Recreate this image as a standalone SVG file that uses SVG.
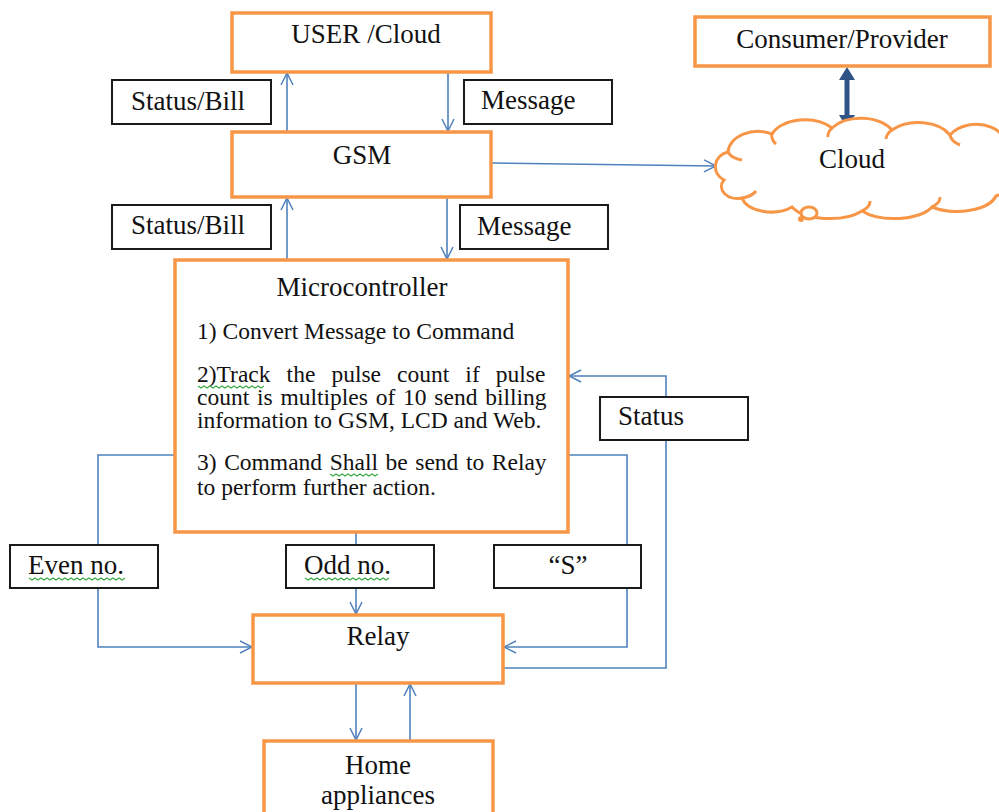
<svg xmlns="http://www.w3.org/2000/svg" width="999" height="812" viewBox="0 0 999 812">
<defs>
<marker id="ah" viewBox="0 0 14 14" refX="13" refY="7" markerWidth="14" markerHeight="14" markerUnits="userSpaceOnUse" orient="auto">
<path d="M1,1 L13,7 L1,13" fill="none" stroke="#4F81BD" stroke-width="1.5"/>
</marker>
<style>
text{font-family:'Liberation Serif',serif !important;fill:#111}
.t{font-size:27px}
.s{font-size:23.5px}
.ob{fill:#fff;stroke:#F79646;stroke-width:3.5}
.bb{fill:#fff;stroke:#1a1a1a;stroke-width:2}
.c{fill:none;stroke:#4F81BD;stroke-width:1.6}
.sq{fill:none;stroke:#3DA843;stroke-width:1.2}
</style>
</defs>
<rect width="999" height="812" fill="#fff"/>

<g id="connectors">
<line class="c" x1="287" y1="132" x2="287" y2="73" marker-end="url(#ah)"/>
<line class="c" x1="448" y1="72" x2="448" y2="131" marker-end="url(#ah)"/>
<line class="c" x1="287" y1="260" x2="287" y2="198" marker-end="url(#ah)"/>
<line class="c" x1="447" y1="197" x2="447" y2="259" marker-end="url(#ah)"/>
<path class="c" d="M492,163 L716,166" marker-end="url(#ah)"/>
<line x1="847" y1="78" x2="847" y2="117" stroke="#2E5387" stroke-width="5"/>
<path d="M847,67 L839,80 L855,80 Z M847,128 L839,115 L855,115 Z" fill="#2E5387"/>
<path class="c" d="M175,455 H98 V545"/>
<path class="c" d="M98,588 V647 H252" marker-end="url(#ah)"/>
<path class="c" d="M356,532 V545"/>
<path class="c" d="M356,588 V614" marker-end="url(#ah)"/>
<path class="c" d="M568,455 H627 V545"/>
<path class="c" d="M627,588 V647 H504" marker-end="url(#ah)"/>
<path class="c" d="M503,668 H666 V376 H569" marker-end="url(#ah)"/>
<line class="c" x1="356" y1="683" x2="356" y2="740" marker-end="url(#ah)"/>
<line class="c" x1="410" y1="741" x2="410" y2="684" marker-end="url(#ah)"/>
</g>

<g id="user-cloud">
<rect class="ob" x="232" y="13" width="259" height="59"/>
<text class="t" font-family="Liberation Serif" x="366" y="43" text-anchor="middle">USER /Cloud</text>
</g>
<g id="consumer-provider">
<rect class="ob" x="695" y="17" width="295" height="49"/>
<text class="t" font-family="Liberation Serif" x="842" y="48" text-anchor="middle">Consumer/Provider</text>
</g>
<g id="label-status-bill-1">
<rect class="bb" x="112" y="80" width="159" height="44"/>
<text class="t" font-family="Liberation Serif" x="131" y="110">Status/Bill</text>
</g>
<g id="label-message-1">
<rect class="bb" x="464" y="80" width="148" height="44"/>
<text class="t" font-family="Liberation Serif" x="481" y="109">Message</text>
</g>
<g id="gsm">
<rect class="ob" x="232" y="132" width="259" height="65"/>
<text class="t" font-family="Liberation Serif" x="362" y="164" text-anchor="middle">GSM</text>
</g>
<g id="cloud">
<path d="M724,180 A16,15 0 0 1 728,152 A30,22 0 0 1 772,134 A35,22 0 0 1 832,128 A35,22 0 0 1 892,130 A35,22 0 0 1 950,135 A30,22 0 0 1 1002,158 A25,22 0 0 1 996,196 A40,20 0 0 1 932,207 A40,18 0 0 1 862,211 A40,18 0 0 1 792,207 A30,18 0 0 1 742,198 A16,12 0 0 1 724,180 Z" fill="#fff" stroke="#F79646" stroke-width="3"/>
<path d="M728,152 A20,12 0 0 0 742,160 M772,134 A22,14 0 0 0 776,144 M832,128 A22,14 0 0 0 828,137 M892,130 A22,14 0 0 0 886,139 M950,135 A24,14 0 0 0 960,145 M742,198 A22,12 0 0 0 756,191 M862,211 A30,14 0 0 0 870,201 M932,207 A30,14 0 0 0 940,197" fill="none" stroke="#F79646" stroke-width="3"/>
<ellipse cx="809" cy="213" rx="8" ry="6" fill="#fff" stroke="#F79646" stroke-width="3"/>
<circle cx="801" cy="219" r="3" fill="#F79646"/>
<text class="t" font-family="Liberation Serif" x="852" y="168" text-anchor="middle">Cloud</text>
</g>
<g id="label-status-bill-2">
<rect class="bb" x="112" y="205" width="159" height="44"/>
<text class="t" font-family="Liberation Serif" x="131" y="234">Status/Bill</text>
</g>
<g id="label-message-2">
<rect class="bb" x="460" y="205" width="148" height="44"/>
<text class="t" font-family="Liberation Serif" x="477" y="235">Message</text>
</g>
<g id="microcontroller">
<rect class="ob" x="175" y="260" width="393" height="272"/>
<text class="t" font-family="Liberation Serif" x="362" y="296" text-anchor="middle">Microcontroller</text>
<text class="s" font-family="Liberation Serif" x="197" y="339">1) Convert Message to Command</text>
<text class="s" font-family="Liberation Serif" x="197" y="382" word-spacing="10.2">2)Track the pulse count if pulse</text>
<text class="s" font-family="Liberation Serif" x="197" y="405" word-spacing="1.9">count is multiples of 10 send billing</text>
<text class="s" font-family="Liberation Serif" x="197" y="428">information to GSM, LCD and Web.</text>
<text class="s" font-family="Liberation Serif" x="197" y="470" word-spacing="1.7">3) Command Shall be send to Relay</text>
<text class="s" font-family="Liberation Serif" x="197" y="495">to perform further action.</text>
<path class="sq" d="M198,386 l3,2 l3,-2 l3,2 l3,-2 l3,2 l3,-2 l3,2 l3,-2 l3,2 l3,-2 l3,2 l3,-2 l3,2 l3,-2 l3,2 l3,-2 l3,2 l3,-2 l3,2 l3,-2 l3,2 l3,-2"/>
<path class="sq" d="M330,474 l3,2 l3,-2 l3,2 l3,-2 l3,2 l3,-2 l3,2 l3,-2 l3,2 l3,-2 l3,2 l3,-2 l3,2 l3,-2 l3,2 l3,-2"/>
</g>
<g id="label-status">
<rect class="bb" x="600" y="397" width="148" height="43"/>
<text class="t" font-family="Liberation Serif" x="618" y="425">Status</text>
</g>
<g id="label-even">
<rect class="bb" x="10" y="545" width="148" height="43"/>
<text class="t" font-family="Liberation Serif" x="28" y="574">Even no.</text>
<path class="sq" d="M29,578 l3,2 l3,-2 l3,2 l3,-2 l3,2 l3,-2 l3,2 l3,-2 l3,2 l3,-2 l3,2 l3,-2 l3,2 l3,-2 l3,2 l3,-2 l3,2 l3,-2 l3,2 l3,-2 l3,2 l3,-2 l3,2 l3,-2 l3,2 l3,-2 l3,2 l3,-2 l3,2 l3,-2 l3,2 l3,-2"/>
</g>
<g id="label-odd">
<rect class="bb" x="286" y="545" width="148" height="43"/>
<text class="t" font-family="Liberation Serif" x="304" y="574">Odd no.</text>
<path class="sq" d="M305,578 l3,2 l3,-2 l3,2 l3,-2 l3,2 l3,-2 l3,2 l3,-2 l3,2 l3,-2 l3,2 l3,-2 l3,2 l3,-2 l3,2 l3,-2 l3,2 l3,-2 l3,2 l3,-2 l3,2 l3,-2 l3,2 l3,-2 l3,2 l3,-2 l3,2 l3,-2"/>
</g>
<g id="label-s">
<rect class="bb" x="494" y="545" width="147" height="43"/>
<text class="t" font-family="Liberation Serif" x="568" y="574" text-anchor="middle">“S”</text>
</g>
<g id="relay">
<rect class="ob" x="253" y="615" width="250" height="68"/>
<text class="t" font-family="Liberation Serif" x="378" y="645" text-anchor="middle">Relay</text>
</g>
<g id="home-appliances">
<rect class="ob" x="264" y="741" width="229" height="80"/>
<text class="t" font-family="Liberation Serif" x="378" y="774" text-anchor="middle">Home</text>
<text class="t" font-family="Liberation Serif" x="378" y="804" text-anchor="middle">appliances</text>
</g>
</svg>
